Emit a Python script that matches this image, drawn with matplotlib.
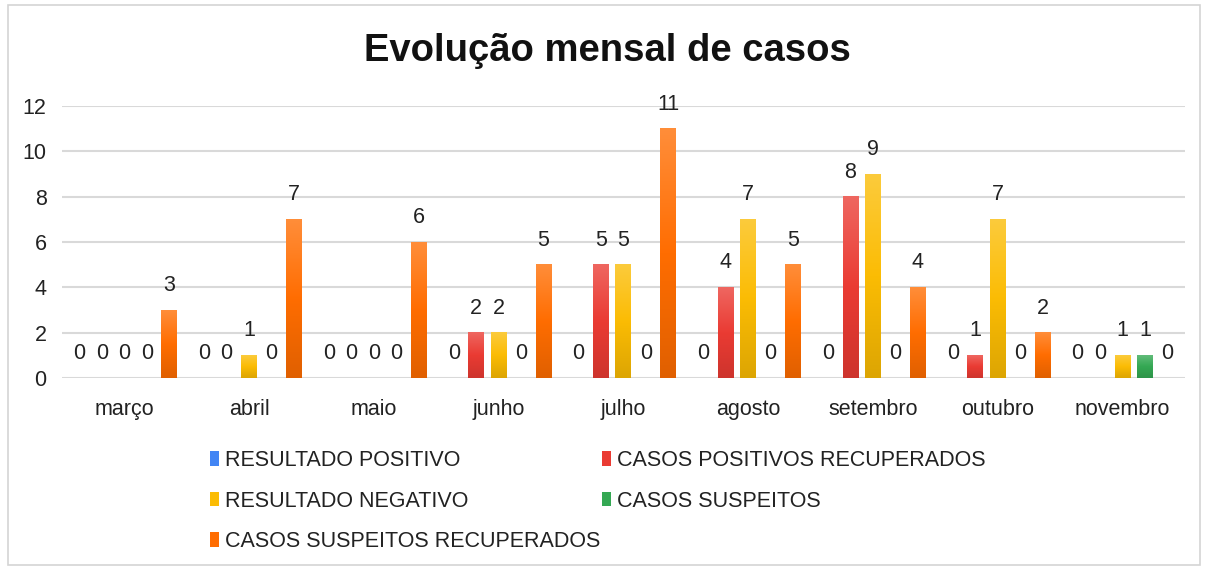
import numpy as np
import matplotlib
matplotlib.use("Agg")
import matplotlib.pyplot as plt
from matplotlib.colors import LinearSegmentedColormap, to_rgb
from matplotlib.patches import Rectangle

plt.rcParams['font.family'] = ['Liberation Sans', 'DejaVu Sans']

meses = ['março', 'abril', 'maio', 'junho', 'julho', 'agosto',
         'setembro', 'outubro', 'novembro']
series = ['RESULTADO POSITIVO', 'CASOS POSITIVOS RECUPERADOS',
          'RESULTADO NEGATIVO', 'CASOS SUSPEITOS',
          'CASOS SUSPEITOS RECUPERADOS']
resultado_positivo = [0, 0, 0, 0, 0, 0, 0, 0, 0]
positivos_recuperados = [0, 0, 0, 2, 5, 4, 8, 1, 0]
resultado_negativo = [0, 1, 0, 2, 5, 7, 9, 7, 1]
casos_suspeitos = [0, 0, 0, 0, 0, 0, 0, 0, 1]
suspeitos_recuperados = [3, 7, 6, 5, 11, 5, 4, 2, 0]
valores = [resultado_positivo, positivos_recuperados, resultado_negativo,
           casos_suspeitos, suspeitos_recuperados]
cores = ['#4285F4', '#EA3B33', '#FBBC04', '#34A853', '#FF6D01']


def mix(c, other, t):
    c = np.array(to_rgb(c))
    return tuple(c * (1 - t) + np.array(other) * t)


fig = plt.figure(figsize=(12.08, 5.72), dpi=100)
ax = fig.add_axes([0.0513, 0.3392, 0.9296, 0.4755])

x = np.arange(len(meses))
slot = 0.18
largura = 0.128
handles = []
grad = np.linspace(0, 1, 64).reshape(-1, 1)
for i, (nome, vals, cor) in enumerate(zip(series, valores, cores)):
    bars = ax.bar(x + (i - 2) * slot, vals, largura, color=cor, label=nome,
                  zorder=3, linewidth=0)
    handles.append(bars)
    cmap = LinearSegmentedColormap.from_list(
        'g%d' % i, [mix(cor, (1, 1, 1), 0.22), cor, mix(cor, (0, 0, 0), 0.12)])
    for b in bars:
        h = b.get_height()
        if h <= 0:
            continue
        b.set_alpha(0)
        ax.imshow(grad, extent=[b.get_x(), b.get_x() + b.get_width(), 0, h],
                  aspect='auto', cmap=cmap, zorder=3, interpolation='bilinear')
    ax.bar_label(bars, labels=[str(v) for v in vals], padding=10,
                 fontsize=15.5, color='#222222')

ax.set_xlim(-0.5, len(meses) - 0.5)
ax.set_ylim(0, 12)
ax.set_yticks(range(0, 13, 2))
ax.set_xticks(x)
ax.set_xticklabels(meses)
ax.grid(axis='y', color='#d9d9d9', linewidth=1.5, zorder=0)
ax.set_axisbelow(True)
for s in ax.spines.values():
    s.set_visible(False)
ax.tick_params(axis='both', length=0, labelsize=15.5, colors='#222222')
ax.tick_params(axis='y', pad=11)
ax.tick_params(axis='x', pad=15)

fig.text(0.503, 0.911, 'Evolução mensal de casos', ha='center', va='center',
         fontsize=27.5, fontweight='bold', color='#111111')

# legenda em duas colunas, preenchida por linhas
ordem = [0, 2, 4, 1, 3]
leg = fig.legend([handles[k] for k in ordem], [series[k] for k in ordem],
                 ncol=2, loc='upper left', bbox_to_anchor=(0.174, 0.213),
                 frameon=False, fontsize=15.5, handlelength=0.42,
                 handleheight=0.65, handletextpad=0.25, columnspacing=0.1,
                 labelspacing=0.9, borderpad=0, borderaxespad=0)
for t in leg.get_texts():
    t.set_color('#222222')
for hnd in leg.legend_handles:
    hnd.set_alpha(1)

fig.patches.append(Rectangle((8 / 1208, 7 / 572), 1192 / 1208, 560 / 572,
                             transform=fig.transFigure, fill=False,
                             edgecolor='#d4d4d4', linewidth=1.2))

fig.savefig('out.png', dpi=100)
